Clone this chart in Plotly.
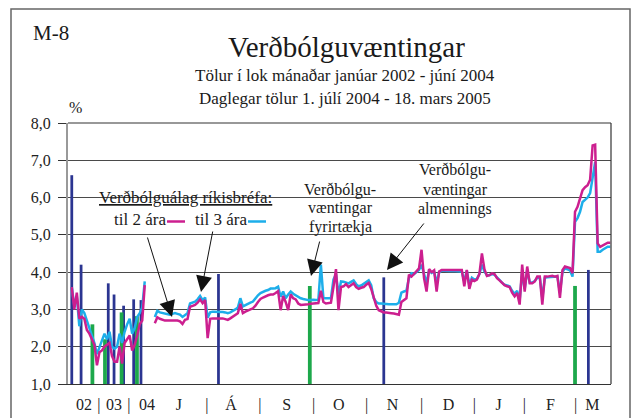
import plotly.graph_objects as go

# ---------------- data ----------------
# End-of-month values, Jan 2002 - Jun 2004 (30 months)
monthly_2y = [3.60, 3.00, 3.45, 2.75, 2.80, 2.75, 2.45, 2.35, 2.20, 2.05,
              1.50, 1.85, 1.90, 2.00, 2.05, 2.10, 1.75, 1.60, 1.60, 2.00,
              1.55, 2.10, 2.20, 2.30, 1.90, 2.05, 2.30, 2.60, 2.70, 3.65]
monthly_3y = [3.60, 3.10, 3.35, 2.55, 3.00, 2.90, 2.70, 2.50, 2.30, 2.10,
              1.80, 2.00, 2.20, 2.35, 2.20, 2.40, 2.00, 1.95, 2.00, 2.35,
              2.10, 2.40, 2.60, 2.75, 2.35, 2.50, 2.80, 2.90, 3.05, 3.75]

# Daily values (trading days), 1 Jul 2004 - 18 Mar 2005
daily_2y = [2.63, 2.79, 2.75, 2.72, 2.70, 2.70, 2.70, 2.70, 2.72, 2.70,
            2.68, 2.61, 2.72, 2.74, 3.07, 3.10, 3.12, 3.18, 3.27, 3.17,
            3.25, 2.23, 2.75, 2.76, 2.76, 2.78, 2.76, 2.76, 2.74, 2.72,
            2.76, 2.80, 2.84, 2.90, 3.15, 2.90, 2.94, 2.96, 3.00, 3.03,
            3.10, 3.20, 3.28, 3.32, 3.36, 3.38, 3.40, 3.40, 3.44, 3.49,
            2.98, 3.36, 3.20, 2.98, 3.40, 3.30, 3.27, 3.16, 3.12, 3.12,
            3.14, 3.14, 3.15, 3.16, 3.16, 3.17, 3.50, 3.20, 3.16, 3.16,
            3.18, 3.60, 4.08, 2.98, 3.60, 3.62, 3.68, 3.60, 3.64, 3.70,
            3.60, 3.55, 3.58, 3.60, 3.66, 3.71, 3.55, 3.30, 3.10, 2.98,
            2.94, 2.92, 2.92, 2.90, 2.90, 2.89, 2.88, 2.86, 3.20, 3.25,
            3.30, 3.93, 3.88, 3.95, 4.02, 4.10, 4.60, 3.84, 3.48, 4.08,
            4.00, 4.05, 3.48, 4.02, 4.06, 4.06, 4.05, 4.05, 4.06, 4.06,
            4.06, 4.05, 4.06, 3.62, 4.06, 3.55, 3.80, 3.76, 3.80, 3.95,
            4.50, 4.08, 3.90, 3.92, 3.97, 3.95, 3.84, 3.78, 3.70, 3.65,
            3.62, 3.60, 3.45, 3.35, 3.44, 3.13, 4.20, 3.48, 4.15, 3.70,
            3.70, 3.75, 3.88, 3.88, 3.13, 3.88, 3.88, 3.90, 3.90, 3.88,
            3.90, 3.31, 4.05, 4.15, 4.12, 4.11, 3.97, 5.62, 5.75, 5.97,
            6.20, 6.28, 6.33, 6.48, 7.40, 7.42, 4.77, 4.68, 4.72, 4.77,
            4.79, 4.79]
daily_3y = [2.80, 2.96, 2.92, 2.90, 2.88, 2.88, 2.86, 2.88, 2.90, 2.88,
            2.86, 2.80, 2.86, 2.90, 3.16, 3.18, 3.21, 3.27, 3.36, 3.25,
            3.32, 2.78, 2.92, 2.94, 2.94, 2.95, 2.94, 2.93, 2.92, 2.90,
            2.92, 2.95, 3.00, 3.05, 3.30, 3.08, 3.12, 3.14, 3.18, 3.21,
            3.30, 3.38, 3.44, 3.48, 3.50, 3.52, 3.56, 3.56, 3.57, 3.61,
            3.34, 3.48, 3.30, 3.40, 3.48, 3.42, 3.38, 3.32, 3.30, 3.28,
            3.26, 3.25, 3.25, 3.26, 3.25, 3.26, 4.20, 3.30, 3.30, 3.30,
            3.30, 3.80, 3.95, 3.40, 3.75, 3.74, 3.72, 3.70, 3.74, 3.78,
            3.68, 3.62, 3.64, 3.68, 3.72, 3.78, 3.65, 3.30, 3.20, 3.16,
            3.16, 3.15, 3.14, 3.14, 3.14, 3.14, 3.14, 3.18, 3.45, 3.48,
            3.50, 3.84, 3.97, 3.95, 4.00, 4.06, 4.20, 3.95, 3.70, 4.05,
            3.98, 4.02, 3.70, 4.00, 4.04, 4.04, 4.03, 4.03, 4.04, 4.03,
            4.04, 4.02, 4.02, 3.75, 4.04, 3.65, 3.85, 3.80, 3.82, 3.95,
            4.20, 4.02, 3.92, 3.92, 3.95, 3.93, 3.85, 3.78, 3.72, 3.66,
            3.65, 3.62, 3.50, 3.42, 3.50, 3.25, 4.00, 3.55, 4.05, 3.72,
            3.72, 3.76, 3.85, 3.86, 3.30, 3.85, 3.86, 3.86, 3.87, 3.86,
            3.88, 3.45, 4.00, 4.10, 4.08, 4.05, 3.88, 5.35, 5.45, 5.62,
            5.88, 5.95, 6.00, 6.12, 6.60, 6.95, 4.55, 4.55, 4.60, 4.64,
            4.68, 4.68]
GAP_SLOTS = 3  # empty slots between monthly and daily sections

# Survey results (slot positions on the shared x scale)
households_pos = [0, 3.7, 14.5, 16.8, 20.6, 24.6, 27.5, 58.3, 124, 205.3]
households_val = [6.6, 4.2, 3.7, 3.4, 3.1, 3.27, 3.25, 3.95, 3.86, 4.06]
companies_pos = [8.2, 13.2, 19.8, 25.9, 94.6, 200.0]
companies_val = [2.6, 2.2, 2.92, 2.82, 3.63, 3.63]

x_label_pos = [4.9, 16.8, 29.9, 42.6, 63.3, 85.4, 106.1, 127.5, 149.7, 169.6, 190.2, 206.9]
x_labels = ["02", "03", "04", "J", "Á", "S", "O", "N", "D", "J", "F", "M"]
sep_pos = [10.8, 22.7, 53.7, 74.7, 96.1, 117.2, 139.0, 160.0, 179.9, 200.2]

y_ticks = [1, 2, 3, 4, 5, 6, 7, 8]

# ---------------- styling ----------------
MAG = "#CC1F8F"
CYA = "#1DAEEA"
BLU = "#2B3591"
GRN = "#1DA84B"
FONT = "Liberation Serif"
TXT = "#1a1a1a"

W, H = 638, 418
L, R, T, B = 68, 27, 123, 34
XR = [-1.5, 214.3]
YR = [1, 8]
PW, PH = W - L - R, H - T - B


def xp(px):  # pixel -> paper
    return (px - L) / PW


def yp(py):
    return (H - B - py) / PH


def xd(px):  # pixel -> data
    return XR[0] + (px - L) / PW * (XR[1] - XR[0])


def yd(py):
    return YR[0] + (H - B - py) / PH * (YR[1] - YR[0])


n_m = len(monthly_2y)
x_month = list(range(n_m))
x_daily = [n_m + GAP_SLOTS + i for i in range(len(daily_2y))]

fig = go.Figure()
fig.add_trace(go.Bar(x=households_pos, y=households_val, width=1.1,
                     marker=dict(color=BLU, line=dict(width=0)), showlegend=False))
fig.add_trace(go.Bar(x=companies_pos, y=companies_val, width=1.5,
                     marker=dict(color=GRN, line=dict(width=0)), showlegend=False))
for xs, ys, col in [(x_month, monthly_3y, CYA), (x_daily, daily_3y, CYA),
                    (x_month, monthly_2y, MAG), (x_daily, daily_2y, MAG)]:
    fig.add_trace(go.Scatter(x=xs, y=ys, mode="lines",
                             line=dict(color=col, width=2.5), showlegend=False))

tickvals = x_label_pos + sep_pos
ticktext = x_labels + ["|"] * len(sep_pos)

fig.update_layout(
    width=W, height=H, margin=dict(l=L, r=R, t=T, b=B, autoexpand=False),
    paper_bgcolor="white", plot_bgcolor="white",
    barmode="overlay", separators=",.",
    font=dict(family=FONT, color=TXT),
    xaxis=dict(range=XR, showgrid=False, zeroline=False, showline=True,
               linecolor="#333", linewidth=1.2, mirror=False, automargin=False,
               tickvals=tickvals, ticktext=ticktext, ticks="",
               tickfont=dict(size=16, family=FONT, color="#222"),
               ticklabelstandoff=6),
    yaxis=dict(range=YR, tickvals=y_ticks, tickformat=".1f", automargin=False,
               showgrid=True, gridcolor="#4a4a4a", gridwidth=1, zeroline=False,
               showline=True, linecolor="#999", linewidth=2.2,
               ticks="outside", ticklen=8, tickcolor="#333", tickwidth=1,
               tickfont=dict(size=16, family=FONT, color="#222"),
               ticklabelstandoff=4),
)

shapes = [
    # white areas behind the annotation texts (interrupt gridlines)
    dict(type="rect", xref="paper", yref="paper", x0=xp(87), x1=xp(515),
         y0=yp(245), y1=yp(185), fillcolor="white", line=dict(width=0), layer="between"),
    dict(type="rect", xref="paper", yref="paper", x0=xp(400), x1=xp(515),
         y0=yp(186), y1=yp(150), fillcolor="white", line=dict(width=0), layer="between"),
    # right border of the plot area and top line
    dict(type="line", xref="paper", yref="paper", x0=1, x1=1, y0=0, y1=1,
         line=dict(color="#333", width=1.2)),
    dict(type="line", xref="paper", yref="paper", x0=0, x1=1, y0=1, y1=1,
         line=dict(color="#333", width=1.2)),
    # legend line samples
    dict(type="line", xref="paper", yref="paper", x0=xp(167), x1=xp(185),
         y0=yp(221.5), y1=yp(221.5), line=dict(color=MAG, width=2.5)),
    dict(type="line", xref="paper", yref="paper", x0=xp(248), x1=xp(266),
         y0=yp(221.5), y1=yp(221.5), line=dict(color=CYA, width=2.5)),
    # outer frame
    dict(type="rect", xref="paper", yref="paper", x0=xp(11), x1=xp(630),
         y0=yp(440), y1=yp(9), line=dict(color="#666", width=1.5),
         fillcolor="rgba(0,0,0,0)", layer="below"),
]
fig.update_layout(shapes=shapes)

texts = [
    ("M-8", 51, 33, 21),
    ("Verðbólguvæntingar", 346, 47, 29),
    ("Tölur í lok mánaðar janúar 2002 - júní 2004", 345, 75, 17),
    ("Daglegar tölur 1. júlí 2004 - 18. mars 2005", 345, 98, 17),
    ("%", 75, 108, 16),
    ("<u>Verðbólguálag ríkisbréfa:</u>", 185, 197, 17),
    ("til 2 ára", 140, 219, 17),
    ("til 3 ára", 221, 219, 17),
    ("Verðbólgu-", 340, 190, 16),
    ("væntingar", 340, 208, 16),
    ("fyrirtækja", 340, 227, 16),
    ("Verðbólgu-", 455, 170, 16),
    ("væntingar", 455, 190, 16),
    ("almennings", 455, 209, 16),
]
annos = []
for t, x, y, s in texts:
    annos.append(dict(text=t, xref="paper", yref="paper", x=xp(x), y=yp(y),
                      xanchor="center", yanchor="middle", showarrow=False,
                      font=dict(family=FONT, size=s, color=TXT)))

arrows = [((172, 317), (147, 236)), ((201, 292), (213, 230)),
          ((311, 276), (320, 240)), ((387, 270), (425, 222))]
for (tx, ty), (sx, sy) in arrows:
    annos.append(dict(text="", x=xd(tx), y=yd(ty), xref="x", yref="y",
                      ax=sx - tx, ay=sy - ty, showarrow=True,
                      arrowhead=2, arrowsize=3.2, arrowwidth=1, arrowcolor="#111"))
fig.update_layout(annotations=annos)

fig.write_html("out.html", config={"displayModeBar": False},
               post_script="document.body.style.margin='0';")
